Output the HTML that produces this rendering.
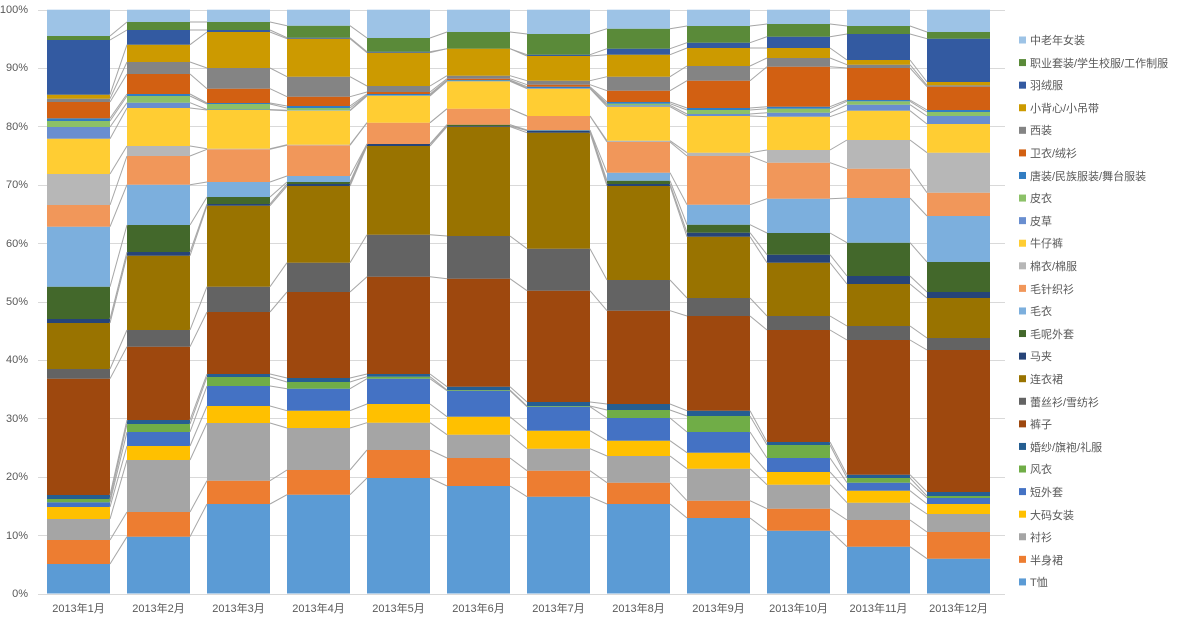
<!DOCTYPE html>
<html><head><meta charset="utf-8">
<style>
html,body{margin:0;padding:0;background:#fff;}
svg{display:block;}
text{font-family:"Liberation Sans","Noto Sans CJK SC",sans-serif;font-size:11px;fill:#595959;}
</style></head>
<body>
<svg id="c" width="1186" height="617" viewBox="0 0 1186 617" xmlns="http://www.w3.org/2000/svg">
<g id="grid" stroke="#D9D9D9" stroke-width="1"></g>
<g id="bars"></g>
<g id="lines" stroke="#A6A6A6" stroke-width="1" fill="none"></g>
<g text-anchor="end">
<text x="28" y="597">0%</text>
<text x="28" y="539">10%</text>
<text x="28" y="480">20%</text>
<text x="28" y="422">30%</text>
<text x="28" y="363">40%</text>
<text x="28" y="305">50%</text>
<text x="28" y="247">60%</text>
<text x="28" y="188">70%</text>
<text x="28" y="130">80%</text>
<text x="28" y="71">90%</text>
<text x="28" y="13">100%</text>
</g>
<g text-anchor="middle">
<text x="78.5" y="612">2013年1月</text>
<text x="158.5" y="612">2013年2月</text>
<text x="238.5" y="612">2013年3月</text>
<text x="318.5" y="612">2013年4月</text>
<text x="398.5" y="612">2013年5月</text>
<text x="478.5" y="612">2013年6月</text>
<text x="558.5" y="612">2013年7月</text>
<text x="638.5" y="612">2013年8月</text>
<text x="718.5" y="612">2013年9月</text>
<text x="798.5" y="612">2013年10月</text>
<text x="878.5" y="612">2013年11月</text>
<text x="958.5" y="612">2013年12月</text>
</g>
<g id="leg"></g>
<g>
<text x="1030" y="44">中老年女装</text>
<text x="1030" y="67">职业套装/学生校服/工作制服</text>
<text x="1030" y="89">羽绒服</text>
<text x="1030" y="112">小背心/小吊带</text>
<text x="1030" y="134">西装</text>
<text x="1030" y="157">卫衣/绒衫</text>
<text x="1030" y="180">唐装/民族服装/舞台服装</text>
<text x="1030" y="202">皮衣</text>
<text x="1030" y="225">皮草</text>
<text x="1030" y="247">牛仔裤</text>
<text x="1030" y="270">棉衣/棉服</text>
<text x="1030" y="293">毛针织衫</text>
<text x="1030" y="315">毛衣</text>
<text x="1030" y="338">毛呢外套</text>
<text x="1030" y="360">马夹</text>
<text x="1030" y="383">连衣裙</text>
<text x="1030" y="406">蕾丝衫/雪纺衫</text>
<text x="1030" y="428">裤子</text>
<text x="1030" y="451">婚纱/旗袍/礼服</text>
<text x="1030" y="473">风衣</text>
<text x="1030" y="496">短外套</text>
<text x="1030" y="519">大码女装</text>
<text x="1030" y="541">衬衫</text>
<text x="1030" y="564">半身裙</text>
<text x="1030" y="586">T恤</text>
</g>
</svg>
<script>
var NS="http://www.w3.org/2000/svg";
var colors=["#5B9BD5","#ED7D31","#A5A5A5","#FFC000","#4472C4","#70AD47","#255E91","#9E480E","#636363","#997300","#264478","#43682B","#7CAFDD","#F1975A","#B7B7B7","#FFCD33","#698ED0","#8CC168","#327DC2","#D26012","#848484","#CC9A00","#335AA1","#5A8A39","#9DC3E6"];
var B=[
[564,540,519,507,502.3,499,495,378.7,369,323,319,286.7,226.7,205,174,138.7,127,121,118.3,102,98.7,94.7,40,36,9.7],
[536.7,512,460,446,432,424,420,346.7,330,255.7,252,225,184.7,156,146,108,102.7,96,94,74,62,44.7,30,22,9.7],
[504,480.7,423,406,386,377,374,312,286.7,205.7,204,197,182,149.3,148.7,110,109.5,104,103,88.7,68,32,30,22,9.7],
[494.7,470,428,410.7,388.7,382,378,292,262.7,186,184,182,176,145.3,144.7,110.7,110.3,108,106,96.7,76.7,38.7,37.7,25.7,9.7],
[478,450,422.7,404,378.7,376.7,374,276.7,234.7,146,144,144,144,122.7,122.7,96,95.3,95,94,92,86,52.7,51.7,38,9.7],
[486,458,434.7,416.7,390.7,390,386.7,278.7,236,126.7,126,124.7,124.7,108.7,108.7,81.3,81,80.7,80,78.7,75.7,48.7,48.7,32,9.7],
[496.7,470.7,448.7,430.7,406.7,406,402,290.7,248.7,132.7,130.7,130.5,130,116,116,88.7,88,88,86.7,84.7,80.7,56,54.7,34,9.7],
[504,482.7,456,440.7,418,410,404,310.7,280,186,184,180.7,172.7,142,140.7,106.7,105.3,103.7,102,90.7,76.7,54.7,48.7,28.7,9.7],
[518,500.7,468.7,452.7,432,416,410.7,316,298,236.7,232.7,224.7,204.7,156,152.7,116,114,110,108,80.7,66,48,42.7,26,9.7],
[530.7,508.7,484.7,472,458,445,442,330,316,262.7,254.7,233,198.7,162.7,150,116.7,112.7,108.7,106.7,66.7,58,48,36.7,24,9.7],
[546.7,520,502.7,490.7,482.7,478,474.7,340,326,284,276,242.7,198,168.7,140,110.7,104.7,101.3,100,68,64.7,60,34,26,9.7],
[558.7,532,514,504,498,496,492,350,338,298,292,262,216,192.7,152.7,124,116,112,110,86.7,85.3,82,38.7,32,9.7]
];
function el(t,a,p){var e=document.createElementNS(NS,t);for(var k in a)e.setAttribute(k,a[k]);document.getElementById(p).appendChild(e);return e;}
var bottom=593.5;
for(var g=0;g<=10;g++){var y=bottom-g*58.38;y=Math.round(y)+0.5;el("line",{x1:38,x2:1005,y1:y,y2:y},"grid");}
var W=63;
for(var i=0;i<12;i++){
 var x=47+80*i, prev=bottom;
 for(var s=0;s<25;s++){
  var t=B[i][s];
  if(prev-t>0.05) el("rect",{x:x,y:t,width:W,height:prev-t,fill:colors[s]},"bars");
  prev=t;
 }
 if(i<11){
  for(var s=0;s<24;s++){
   el("line",{x1:x+W,y1:B[i][s],x2:x+80,y2:B[i+1][s]},"lines");
  }
 }
}
for(var s=0;s<25;s++){
 var cy=40+(24-s)*22.58;
 el("rect",{x:1019,y:cy-3.5,width:7,height:7,fill:colors[s]},"leg");
}
</script>
</body></html>
